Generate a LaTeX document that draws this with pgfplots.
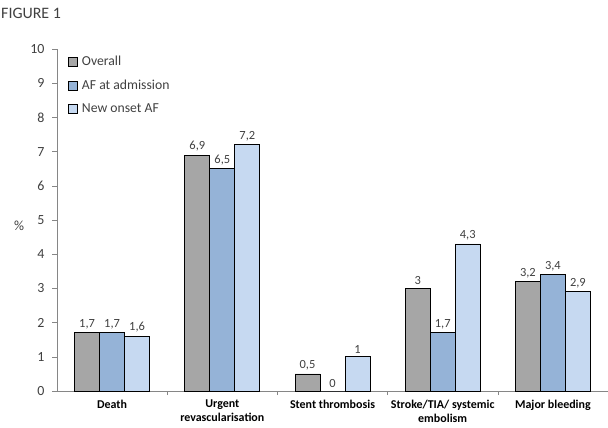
\documentclass[border=0pt]{standalone}
\usepackage{fontspec}
\setmainfont{Carlito}
\usepackage{pgfplots}
\pgfplotsset{compat=1.18}
\definecolor{cOverall}{HTML}{A6A6A6}
\definecolor{cAdm}{HTML}{95B3D7}
\definecolor{cNew}{HTML}{C6D9F1}
\definecolor{axgray}{HTML}{868686}
\definecolor{txt}{HTML}{404040}
\begin{document}
\begin{tikzpicture}[x=1bp,y=1bp]
\useasboundingbox (0,0) rectangle (608,427);
\node[anchor=west,inner sep=0pt,font=\fontsize{16}{18}\selectfont,text=txt] at (1,414) {FIGURE 1};
\node[font=\fontsize{14}{16}\selectfont,text=txt] at (19,201) {\%};
\begin{axis}[
  at={(57bp,36bp)}, anchor=south west,
  scale only axis, width=551bp, height=342bp,
  ymin=0, ymax=10, ytick={0,1,...,10},
  xmin=-0.5, xmax=4.5,
  axis x line*=bottom, axis y line*=left,
  axis line style={draw=axgray},
  every tick/.style={draw=axgray},
  tick align=outside, major tick length=5bp,
  /pgf/number format/assume math mode=true,
  yticklabel style={font=\fontsize{14}{16}\selectfont, text=txt, xshift=-4bp},
  xtick={0,1,2,3,4},
  xticklabels={Death, Urgent\\revascularisation, Stent thrombosis, Stroke/TIA/ systemic\\embolism, Major bleeding},
  xticklabel style={font=\bfseries\fontsize{12}{14}\selectfont, align=center, text=black, yshift=-2.5bp, inner sep=1bp},
  x tick style={draw=none},
  extra x ticks={0.5,1.5,2.5,3.5,4.5},
  extra x tick labels={},
  extra x tick style={x tick style={draw=axgray}, major tick length=4bp},
  ybar=0pt, bar width=25bp,
  nodes near coords,
  nodes near coords style={font=\fontsize{12.5}{14}\selectfont, text=txt, /pgf/number format/use comma, /pgf/number format/assume math mode=true},
  every axis plot post/.append style={draw=black, line width=0.8bp},
  legend image code/.code={\draw[#1,draw=black,line width=0.8bp] (0bp,-4.5bp) rectangle (9bp,4.5bp);},
  legend style={at={(8bp,339bp)}, anchor=north west, draw=none, fill=none,
    font=\fontsize{13.75}{15}\selectfont, text=txt, row sep=9bp,
    /tikz/every even column/.append style={column sep=0pt},
    /tikz/every odd column/.append style={column sep=2bp}},
  legend cell align=left,
]
\addplot[fill=cOverall] coordinates {(0,1.7) (1,6.9) (2,0.5) (3,3.0) (4,3.2)};
\addplot[fill=cAdm] coordinates {(0,1.7) (1,6.5) (2,0) (3,1.7) (4,3.4)};
\addplot[fill=cNew] coordinates {(0,1.6) (1,7.2) (2,1.0) (3,4.3) (4,2.9)};
\legend{Overall, AF at admission, New onset AF}
\end{axis}
\end{tikzpicture}
\end{document}
